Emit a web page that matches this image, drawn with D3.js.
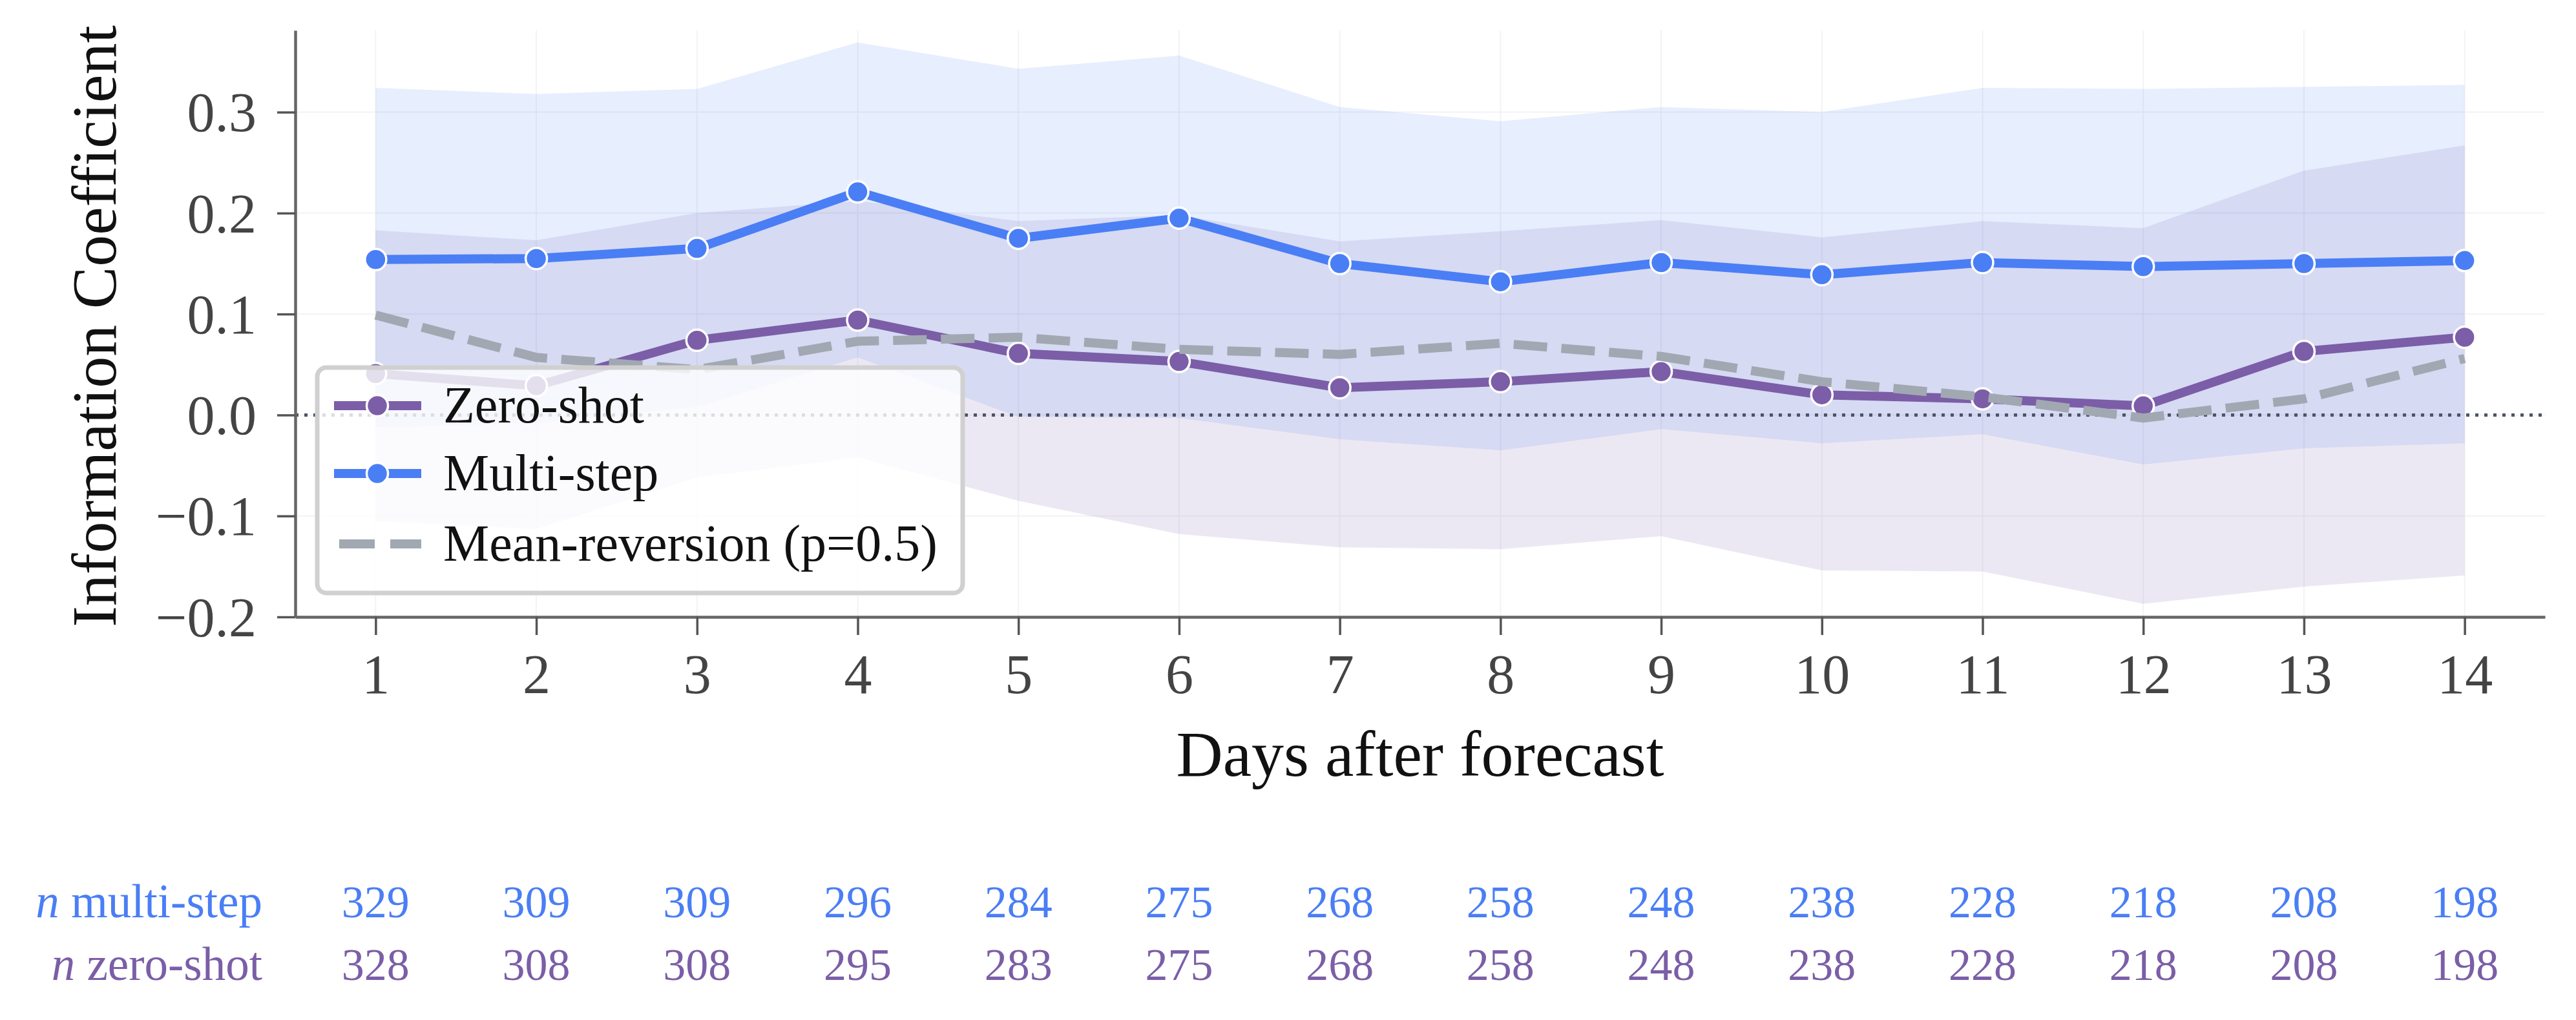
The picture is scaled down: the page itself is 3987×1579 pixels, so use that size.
<!DOCTYPE html>
<html>
<head>
<meta charset="utf-8">
<script src="https://cdn.jsdelivr.net/npm/d3@7"></script>
<style>
body { margin: 0; background: #fff; }
svg { display: block; }
text { font-family: "Liberation Serif", "DejaVu Serif", serif; }
</style>
</head>
<body>
<script>
// values
var days = [1, 2, 3, 4, 5, 6, 7, 8, 9, 10, 11, 12, 13, 14];
var yTicks = [-0.2, -0.1, 0.0, 0.1, 0.2, 0.3];

var zeroShot = [0.041, 0.029, 0.074, 0.094, 0.061, 0.053, 0.027, 0.033, 0.043, 0.020, 0.016, 0.009, 0.063, 0.077];
var zeroLow  = [-0.105, -0.113, -0.062, -0.042, -0.085, -0.118, -0.131, -0.133, -0.120, -0.154, -0.155, -0.187, -0.170, -0.159];
var zeroHigh = [0.183, 0.173, 0.200, 0.212, 0.192, 0.198, 0.172, 0.182, 0.193, 0.176, 0.192, 0.185, 0.242, 0.267];

var multiStep = [0.154, 0.155, 0.165, 0.221, 0.175, 0.195, 0.150, 0.132, 0.151, 0.139, 0.151, 0.147, 0.150, 0.153];
var multiLow  = [-0.012, -0.008, 0.008, 0.057, -0.002, -0.003, -0.024, -0.035, -0.014, -0.028, -0.019, -0.049, -0.033, -0.028];
var multiHigh = [0.324, 0.318, 0.323, 0.369, 0.343, 0.356, 0.305, 0.291, 0.305, 0.300, 0.324, 0.323, 0.325, 0.327];

var meanRev = [0.099, 0.057, 0.045, 0.073, 0.077, 0.065, 0.060, 0.071, 0.058, 0.033, 0.018, -0.003, 0.016, 0.056];

var nMulti = [329, 309, 309, 296, 284, 275, 268, 258, 248, 238, 228, 218, 208, 198];
var nZero  = [328, 308, 308, 295, 283, 275, 268, 258, 248, 238, 228, 218, 208, 198];

var purple = "#7b5ea7", blue = "#4a7ef5", grey = "#a1a8b2";

var w = 3987, h = 1579;
var plotL = 457, plotR = 3939, plotT = 47, plotB = 955;

var x = d3.scaleLinear().domain([0.5, 14.5]).range([plotL, plotR]);
var y = d3.scaleLinear().domain([-0.2, 0.381]).range([plotB, plotT]);

var svg = d3.select("body").append("svg")
    .attr("width", w)
    .attr("height", h);

// faint grid
var grid = svg.append("g").attr("stroke", "#f3f3f5").attr("stroke-width", 2);
grid.selectAll("line.gx").data(days).join("line")
    .attr("class", "gx")
    .attr("x1", d => x(d)).attr("x2", d => x(d))
    .attr("y1", plotT).attr("y2", plotB);
grid.selectAll("line.gy").data(yTicks).join("line")
    .attr("class", "gy")
    .attr("x1", plotL).attr("x2", plotR)
    .attr("y1", d => y(d)).attr("y2", d => y(d));

var idx = days.map((d, i) => i);

function band(lo, hi) {
    return d3.area()
        .x(i => x(days[i]))
        .y0(i => y(lo[i]))
        .y1(i => y(hi[i]))(idx);
}
function path(vals) {
    return d3.line().x(i => x(days[i])).y(i => y(vals[i]))(idx);
}

svg.append("path").attr("d", band(zeroLow, zeroHigh))
    .attr("fill", purple).attr("fill-opacity", 0.14);
svg.append("path").attr("d", band(multiLow, multiHigh))
    .attr("fill", blue).attr("fill-opacity", 0.135);

// zero reference
svg.append("line")
    .attr("x1", plotL).attr("x2", plotR)
    .attr("y1", y(0)).attr("y2", y(0))
    .attr("stroke", "#4d5466").attr("stroke-width", 5)
    .attr("stroke-dasharray", "5,9");

function series(vals, col) {
    svg.append("path").attr("d", path(vals))
        .attr("fill", "none").attr("stroke", col)
        .attr("stroke-width", 14).attr("stroke-linejoin", "round");
    svg.append("g").selectAll("circle").data(idx).join("circle")
        .attr("cx", i => x(days[i]))
        .attr("cy", i => y(vals[i]))
        .attr("r", 16.5)
        .attr("fill", col)
        .attr("stroke", "#fff").attr("stroke-width", 3.5);
}
series(zeroShot, purple);
series(multiStep, blue);

svg.append("path").attr("d", path(meanRev))
    .attr("fill", "none").attr("stroke", grey)
    .attr("stroke-width", 14).attr("stroke-dasharray", "52,22");

// axes
var xAxis = svg.append("g")
    .attr("transform", "translate(0," + plotB + ")")
    .call(d3.axisBottom(x).tickValues(days).tickFormat(d3.format("d"))
        .tickSize(28).tickSizeOuter(0).tickPadding(29));
var yAxis = svg.append("g")
    .attr("transform", "translate(" + plotL + ",0)")
    .call(d3.axisLeft(y).tickValues(yTicks).tickFormat(d3.format(".1f"))
        .tickSize(28).tickSizeOuter(0).tickPadding(32));

[xAxis, yAxis].forEach(function (a) {
    a.select(".domain").attr("stroke", "#666").attr("stroke-width", 4.5);
    a.selectAll(".tick line").attr("stroke", "#555").attr("stroke-width", 3.5);
    a.selectAll(".tick text")
        .attr("fill", "#444")
        .style("font-size", "86px")
        .style("font-family", '"Liberation Serif", serif');
});
yAxis.selectAll(".tick text").attr("dy", "0.34em");

// axis titles
svg.append("text")
    .attr("x", (plotL + plotR) / 2).attr("y", 1201)
    .attr("text-anchor", "middle")
    .attr("fill", "#111")
    .style("font-size", "100px")
    .text("Days after forecast");

svg.append("text")
    .attr("transform", "translate(179," + ((plotT + plotB) / 2 + 4) + ") rotate(-90)")
    .attr("text-anchor", "middle")
    .attr("fill", "#111")
    .style("font-size", "98px")
    .text("Information Coefficient");

// legend
var lg = svg.append("g");
lg.append("rect")
    .attr("x", 491).attr("y", 569).attr("width", 999).attr("height", 349)
    .attr("rx", 14)
    .attr("fill", "#fff").attr("fill-opacity", 0.8)
    .attr("stroke", "#d0d0d0").attr("stroke-width", 7);

var entries = [
    {label: "Zero-shot", col: purple, cy: 628, marker: true},
    {label: "Multi-step", col: blue, cy: 733, marker: true},
    {label: "Mean-reversion (p=0.5)", col: grey, cy: 842, marker: false}
];
entries.forEach(function (e) {
    var l = lg.append("line")
        .attr("x1", e.marker ? 517 : 525).attr("x2", 652)
        .attr("y1", e.cy).attr("y2", e.cy)
        .attr("stroke", e.col).attr("stroke-width", 14);
    if (e.marker) {
        lg.append("circle").attr("cx", 584).attr("cy", e.cy).attr("r", 16.5)
            .attr("fill", e.col).attr("stroke", "#fff").attr("stroke-width", 3.5);
    } else {
        l.attr("stroke-dasharray", "55,24");
    }
    lg.append("text")
        .attr("x", 686).attr("y", e.cy + 26)
        .attr("fill", "#111")
        .style("font-size", "80px")
        .text(e.label);
});

// sample counts under the axis
function countRow(label, vals, col, base) {
    var t = svg.append("text")
        .attr("x", 406).attr("y", base)
        .attr("text-anchor", "end")
        .attr("fill", col)
        .style("font-size", "73px");
    t.append("tspan").style("font-style", "italic").text("n");
    t.append("tspan").text(" " + label);
    svg.append("g").selectAll("text").data(idx).join("text")
        .attr("x", i => x(days[i]))
        .attr("y", base)
        .attr("text-anchor", "middle")
        .attr("fill", col)
        .style("font-size", "70px")
        .text(i => vals[i]);
}
countRow("multi-step", nMulti, blue, 1420);
countRow("zero-shot", nZero, purple, 1517);
</script>
</body>
</html>
